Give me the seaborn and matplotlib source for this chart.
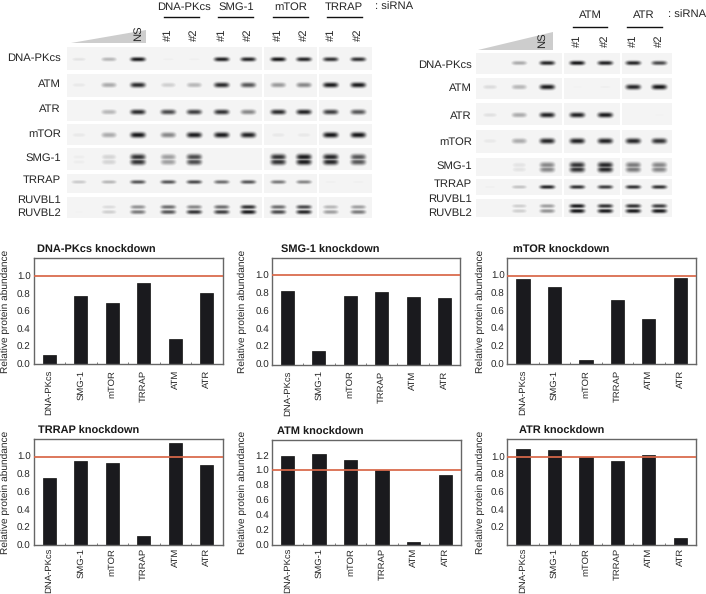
import matplotlib
matplotlib.use('Agg')
import matplotlib.pyplot as plt
from matplotlib.colors import LinearSegmentedColormap
from matplotlib.patches import Polygon
import numpy as np
import seaborn as sns

W, H = 706, 594

proteins = ['DNA-PKcs', 'SMG-1', 'mTOR', 'TRRAP', 'ATM', 'ATR']

# bar panels, values
dnapk_kd = [0.10, 0.78, 0.70, 0.92, 0.28, 0.81]
smg1_kd = [0.83, 0.15, 0.77, 0.82, 0.76, 0.75]
mtor_kd = [0.96, 0.87, 0.05, 0.72, 0.51, 0.97]
trrap_kd = [0.76, 0.95, 0.93, 0.11, 1.16, 0.91]
atm_kd = [1.19, 1.22, 1.14, 1.00, 0.04, 0.93]
atr_kd = [1.09, 1.08, 1.00, 0.96, 1.02, 0.08]

# band darkness per lane, left blot (0 = no band, 1 = black)
left_bands = {
    'DNA-PKcs': [.12, .30, .95, .07, .07, .92, .90, .97, .90, .85, .85],
    'ATM': [.10, .35, .88, .20, .30, .88, .70, .42, .50, .95, .95],
    'ATR': [.05, .30, .88, .75, .80, .85, .50, .88, .92, .80, .70],
    'mTOR': [.10, .35, .97, .50, .95, .95, .92, .10, .10, .97, .97],
    'SMG-1': [.08, .18, .85, .40, .75, .03, .05, .85, .95, .90, .70],
    'TRRAP': [.22, .30, .70, .70, .75, .60, .70, .55, .50, .07, .07],
    'RUVBL1': [.05, .15, .45, .60, .50, .60, .85, .60, .75, .30, .40],
    'RUVBL2': [.06, .20, .55, .70, .85, .80, .95, .75, .90, .40, .55],
}
right_bands = {
    'DNA-PKcs': [.05, .35, .90, .97, .92, .90, .75],
    'ATM': [.15, .30, .95, .06, .07, .90, .97],
    'ATR': [.13, .35, .92, .92, .95, .05, .06],
    'mTOR': [.10, .35, .90, .92, .92, .90, .85],
    'SMG-1': [.03, .12, .50, .85, .90, .55, .50],
    'TRRAP': [.07, .25, .90, .85, .80, .85, .85],
    'RUVBL1': [.03, .20, .40, .95, .85, .85, .80],
    'RUVBL2': [.03, .20, .45, .97, .95, .95, .95],
}

BAR_COLOR = '#1a1a1e'
LINE_COLOR = '#d9684a'
SPINE_COLOR = '#666666'
TEXT_COLOR = '#262626'

# band thickness in pixels
THICK = {'DNA-PKcs': 2.2, 'ATM': 2.6, 'ATR': 2.6, 'mTOR': 2.8, 'SMG-1': 3.0,
         'TRRAP': 2.0, 'RUVBL1': 2.1, 'RUVBL2': 2.2}

plt.rcParams['font.family'] = ['Liberation Sans', 'DejaVu Sans']
plt.rcParams['text.hinting'] = 'none'
blot_cmap = LinearSegmentedColormap.from_list('blot', ['#ffffff', '#101012'])

fig = plt.figure(figsize=(W / 100, H / 100), dpi=100, facecolor='white')


def px_axes(x0, y0, x1, y1):
    return fig.add_axes([x0 / W, 1 - y1 / H, (x1 - x0) / W, (y1 - y0) / H])


def draw_blot(bands, lanes, strips, band_y, x_range, gaps):
    ''' one blot as a pixel image, bands get soft edges '''
    x0, x1 = x_range
    y0, y1 = strips[0][0], strips[-1][1]
    xx = np.arange(x0, x1) + 0.5
    yy = np.arange(y0, y1) + 0.5
    img = np.zeros((len(yy), len(xx)))
    mask = np.ones_like(img, dtype=bool)

    for (top, bottom) in strips:
        mask[(yy >= top) & (yy < bottom), :] = False
    for gap in gaps:
        mask[:, np.abs(xx - gap) < 0.6] = True

    for name, centres in band_y.items():
        prof_x = np.zeros_like(xx)
        for lane, d in zip(lanes, bands[name]):
            prof_x = np.maximum(prof_x, d * np.exp(-((xx - lane) / 7.5) ** 4))
        for centre in centres:
            prof_y = np.exp(-((yy - centre) / THICK[name]) ** 2)
            img = np.maximum(img, np.outer(prof_y, prof_x))
    img = np.maximum(img, 0.05)

    ax = px_axes(x0, y0, x1, y1)
    sns.heatmap(img, mask=mask, cmap=blot_cmap, vmin=0, vmax=1, cbar=False,
                xticklabels=False, yticklabels=False, ax=ax)
    ax.set_facecolor('white')


left_lanes = [79, 109, 138, 168.3, 194.3, 221.7, 248.3, 278.3, 304, 330.7, 358.3]
left_strips = [(47, 70), (74, 97), (100, 121), (124, 145), (148, 170), (174, 193), (197, 218)]
left_y = {'DNA-PKcs': [59.3], 'ATM': [85], 'ATR': [112], 'mTOR': [135], 'SMG-1': [157, 162],
          'TRRAP': [182], 'RUVBL1': [207], 'RUVBL2': [212]}
draw_blot(left_bands, left_lanes, left_strips, left_y, (67, 372), (263, 318))

right_lanes = [490, 519.3, 547.3, 577.3, 605.3, 633.3, 659.3]
right_strips = [(53, 74), (78, 99), (103, 125), (130, 153), (158, 176), (179, 195), (199, 217)]
right_y = {'DNA-PKcs': [63], 'ATM': [87], 'ATR': [115], 'mTOR': [141], 'SMG-1': [165, 169.5],
           'TRRAP': [187], 'RUVBL1': [206], 'RUVBL2': [211]}
draw_blot(right_bands, right_lanes, right_strips, right_y, (476, 672), (563, 621))

# text and header lines sit on an overlay in pixel coordinates
over = fig.add_axes([0, 0, 1, 1], zorder=5)
over.set_xlim(0, W)
over.set_ylim(H, 0)
over.axis('off')
over.patch.set_alpha(0)


def label(x, y, s, ha='center', rot=0):
    over.text(x, y, s, ha=ha, va='center', rotation=rot, fontsize=8.1, color=TEXT_COLOR)


# left header
over.add_patch(Polygon([(71, 43), (146, 30), (146, 43)], fc='#cdcdcd', ec='none'))
label(138, 33, 'NS', rot=90)
for name, xc, (a, b) in [('DNA-PKcs', 184, (164, 199)), ('SMG-1', 236, (218, 253)),
                         ('mTOR', 291, (273, 308)), ('TRRAP', 344, (327, 362))]:
    label(xc, 7, name)
    over.plot([a, b], [17, 17], color='#111111', lw=1)
label(375, 7, ': siRNA', ha='left')
for i, lane in enumerate(left_lanes[3:]):
    label(lane, 35, '#1' if i % 2 == 0 else '#2', rot=90)
for y, s in zip([58, 84, 109, 134, 158, 180, 200, 213],
                ['DNA-PKcs', 'ATM', 'ATR', 'mTOR', 'SMG-1', 'TRRAP', 'RUVBL1', 'RUVBL2']):
    label(61, y, s, ha='right')

# right header
over.add_patch(Polygon([(478, 50), (553, 32), (553, 50)], fc='#cdcdcd', ec='none'))
label(542, 40, 'NS', rot=90)
for name, xc, (a, b) in [('ATM', 590, (573, 607)), ('ATR', 644, (627, 662))]:
    label(xc, 15, name)
    over.plot([a, b], [27, 27], color='#111111', lw=1)
label(668, 15, ': siRNA', ha='left')
for i, lane in enumerate(right_lanes[3:]):
    label(lane, 41, '#1' if i % 2 == 0 else '#2', rot=90)
for y, s in zip([65, 88, 116, 142, 166, 184, 199, 213],
                ['DNA-PKcs', 'ATM', 'ATR', 'mTOR', 'SMG-1', 'TRRAP', 'RUVBL1', 'RUVBL2']):
    label(472, y, s, ha='right')


def bar_panel(box, values, title, title_x, label_x, ymax, yticks, line_y=1.0, xpad=4.2):
    x0, y0, x1, y1 = box
    ax = px_axes(x0, y0, x1, y1)
    sns.barplot(x=proteins, y=values, color=BAR_COLOR, saturation=1, width=0.42,
                edgecolor='#111111', linewidth=0.5, ax=ax)
    ax.axhline(line_y, color=LINE_COLOR, lw=1.4, alpha=0.9, zorder=5)
    ax.set_xlim(-0.5, 5.5)
    ax.set_ylim(0, ymax)
    ax.set_yticks(yticks)
    ax.set_yticklabels([f'{t:.1f}' for t in yticks], fontsize=7.1, color=TEXT_COLOR)
    ax.tick_params(axis='y', length=0, pad=2)
    ax.tick_params(axis='x', which='major', length=0, pad=xpad, labelrotation=90,
                   labelsize=6.8, labelcolor=TEXT_COLOR)
    ax.set_xticks(np.arange(0.5, 5), minor=True)
    ax.tick_params(axis='x', which='minor', direction='in', length=1.8, width=0.6,
                   color=SPINE_COLOR)
    for spine in ax.spines.values():
        spine.set_color(SPINE_COLOR)
        spine.set_linewidth(1)
    ax.set_ylabel('Relative protein abundance', fontsize=7.25, color=TEXT_COLOR)
    # label coords give the right edge of the rotated text
    ax.yaxis.set_label_coords((label_x + 5 - x0) / (x1 - x0), 0.5)
    ax.set_title(title, loc='left', x=(title_x - x0) / (x1 - x0), pad=3.5,
                 fontsize=7.9, fontweight='bold', color='#1a1a1a')


ticks = [0.0, 0.2, 0.4, 0.6, 0.8, 1.0]
bar_panel((33.5, 258, 222.5, 364), dnapk_kd, 'DNA-PKcs knockdown', 37, 5, 1.21, ticks)
bar_panel((271.7, 258, 460.3, 364.5), smg1_kd, 'SMG-1 knockdown', 281, 242, 1.20, ticks, 1.01)
bar_panel((507.3, 258, 696, 364), mtor_kd, 'mTOR knockdown', 512.7, 480, 1.20, ticks)
bar_panel((33.5, 439, 222.5, 545.3), trrap_kd, 'TRRAP knockdown', 38, 5, 1.20, ticks, xpad=2)
bar_panel((271.7, 440, 461, 545.3), atm_kd, 'ATM knockdown', 276.7, 242, 1.40, ticks + [1.2], xpad=2)
bar_panel((507.3, 439, 696, 545.3), atr_kd, 'ATR knockdown', 518.7, 480, 1.204, ticks[1:], xpad=2)

fig.savefig('out.png', dpi=100, facecolor='white')
